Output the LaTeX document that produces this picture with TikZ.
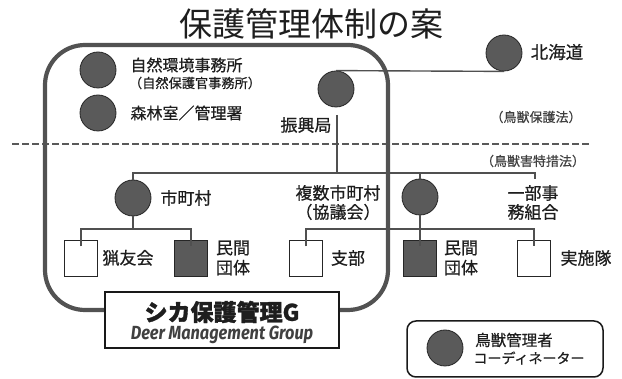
\documentclass[tikz,border=0pt]{standalone}
\usepackage{fontspec}
\setmainfont{Noto Sans CJK JP}[FakeBold=0.6, BoldFeatures={FakeBold=1.6}]
\newfontfamily\titlef{Noto Sans CJK JP}
\newfontfamily\latinf{Fira Sans}
\definecolor{cgray}{HTML}{5A5A5A}
\definecolor{lgray}{HTML}{505050}
\definecolor{txt}{HTML}{1E1E1E}
\begin{document}
\begin{tikzpicture}[x=1pt,y=-1pt,
  circ/.style={circle, fill=cgray, draw=black!85, line width=0.8, minimum size=36, inner sep=0},
  wbox/.style={draw=black!85, fill=white, line width=1, minimum width=33, minimum height=36, inner sep=0},
  fbox/.style={wbox, fill=cgray},
  lbl/.style={font=\fontsize{17}{20}\selectfont, text=txt, inner sep=0, align=center},
  slbl/.style={font=\fontsize{13}{15}\selectfont, text=black!75, inner sep=0},
  conn/.style={draw=lgray, line width=1.4},
  bigr/.style={draw=black!68, line width=4.2, rounded corners=40},
  gbox/.style={draw=black!90, fill=white, line width=2.6, minimum width=234, minimum height=56, inner sep=0},
  legbox/.style={draw=black!90, line width=1.5, rounded corners=9}
]
\useasboundingbox (0,0) rectangle (622,379);
% title
\node[text=txt, inner sep=0, font=\titlef\fontsize{33}{35}\selectfont] (title) at (311,24) {保護管理体制の案};
% dashed boundary
\coordinate (dashL) at (12,144);
\coordinate (dashR) at (590,144);
\draw[draw=black!65, line width=1.8, dash pattern=on 6.5pt off 3.5pt] (dashL) -- (dashR);
% circles
\node[circ] (env) at (98,70) {};
\node[circ] (forest) at (98,113) {};
\node[circ] (shinkou) at (336,89) {};
\node[circ] (hokkaido) at (504,53) {};
\node[circ] (shicho) at (133,198) {};
\node[circ] (coordR) at (420,197) {};
% boxes
\node[wbox] (b1) at (81,259) {};
\node[fbox] (b2) at (191,259) {};
\node[wbox] (b3) at (306,259) {};
\node[fbox] (b4) at (420,259) {};
\node[wbox] (b5) at (534,259) {};
% connectors
\draw[conn] (shinkou.north) -- (hokkaido.south);
\coordinate (shtail) at (337,115);
\coordinate (busL) at (133,173);
\coordinate (busR) at (535,173);
\coordinate (busRend) at (535,179);
\draw[conn] (shicho.north) -- (busL) -- (busR) -- (busRend);
\draw[conn] (shtail) -- (shtail |- busL);
\draw[conn] (coordR.north) -- (coordR.north |- busL);
% second level left
\coordinate (l1) at (81,229);
\coordinate (l2) at (191,229);
\draw[conn] (shicho.south) -- (shicho.south |- l1);
\draw[conn] ([yshift=-6pt]b1.north) -- (l1) -- (l2) -- ([yshift=-6pt]b2.north);
% second level right
\coordinate (r1) at (306,229);
\coordinate (r3) at (534,229);
\draw[conn] ([yshift=-6pt]b3.north) -- (r1) -- (r3) -- ([yshift=-6pt]b5.north);
\draw[conn] (coordR.south) -- ([yshift=-6pt]b4.north);
% big rounded group
\draw[bigr] (45,45) rectangle (388,310);
% group label box
\node[gbox] (dmg) at (222,320) {};
\node[inner sep=0, text=txt, font=\fontsize{23}{25}\selectfont\bfseries] (shika) at (222,312) {シカ保護管理\textit{G}};
\node[inner sep=0, text=black!75, font=\latinf\fontsize{19}{21}\selectfont\itshape\bfseries] (deer) at (222,335) {\scalebox{0.86}[1]{Deer Management Group}};
% labels
\node[lbl, font=\fontsize{16}{18}\selectfont] (tenv) at (186.5,65) {自然環境事務所};
\node[inner sep=0, text=txt, font=\fontsize{13.2}{16}\selectfont] (tenv2) at (195,83) {（自然保護官事務所）};
\node[lbl, font=\fontsize{16}{18}\selectfont] (tforest) at (186.5,113) {森林室／管理署};
\node[lbl] (tshinkou) at (306,125) {振興局};
\node[lbl, font=\fontsize{17.5}{20}\selectfont] (thok) at (557,52) {北海道};
\node[slbl] (law1) at (536,117) {（鳥獣保護法）};
\node[slbl] (law2) at (533,161) {（鳥獣害特措法）};
\node[lbl] (tshicho) at (186,198) {市町村};
\node[lbl, font=\fontsize{17}{19}\selectfont] (tfukusu) at (338,202.5) {複数市町村\\（協議会）};
\node[lbl, font=\fontsize{17}{19}\selectfont] (tichibu) at (533,202.5) {一部事\\務組合};
\node[lbl] (t1) at (128,258) {猟友会};
\node[lbl] (t2) at (233,258) {民間\\団体};
\node[lbl] (t3) at (348,258) {支部};
\node[lbl] (t4) at (461,258) {民間\\団体};
\node[lbl] (t5) at (586,258) {実施隊};
% legend
\draw[legbox] (407,321) rectangle (603,377);
\node[circ] (legc) at (445,348) {};
\node[inner sep=0, text=txt, font=\fontsize{15.5}{17}\selectfont] (leg1) at (514,340) {鳥獣管理者};
\node[inner sep=0, text=txt, font=\fontsize{14}{16}\selectfont] (leg2) at (529,358) {コーディネーター};
\end{tikzpicture}
\end{document}
